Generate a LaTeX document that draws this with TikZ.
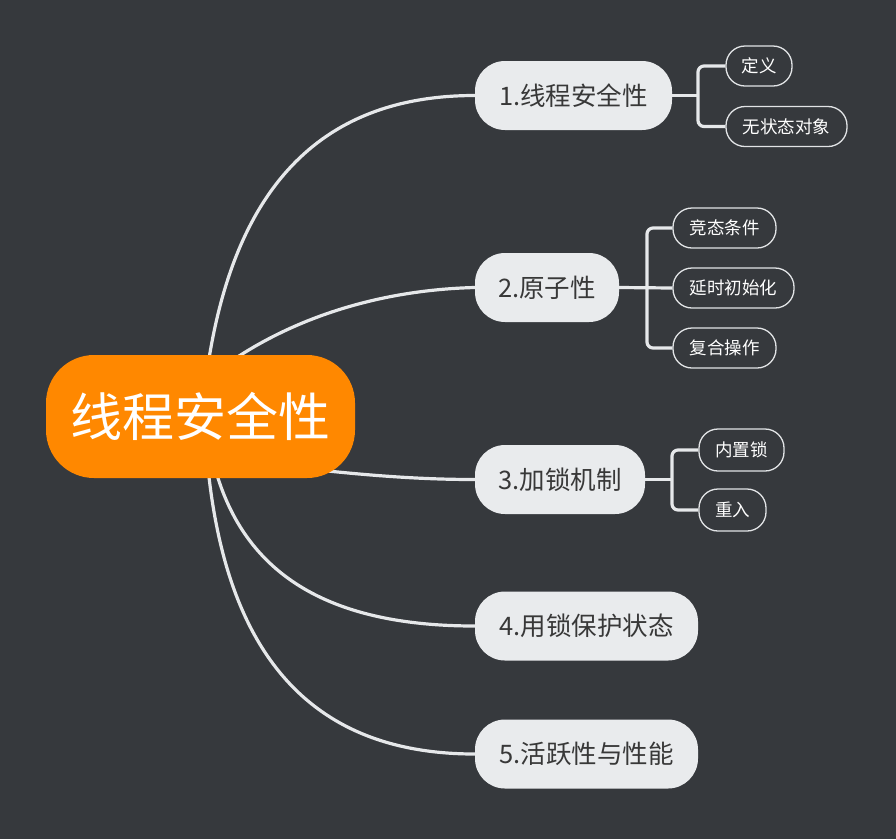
\documentclass[tikz,border=0pt]{standalone}
\usepackage{fontspec}
\setmainfont{Noto Sans CJK SC}
\definecolor{bgc}{HTML}{36393D}
\definecolor{rootc}{HTML}{FF8800}
\definecolor{lonec}{HTML}{E9EBED}
\definecolor{txtc}{HTML}{383838}
\definecolor{linec}{HTML}{E6E8EA}
\definecolor{bordc}{HTML}{E2E4E6}
\tikzset{
  rootbox/.style={fill=rootc, rounded corners=48pt, inner sep=0pt, minimum width=309pt, minimum height=123pt, text=white, font=\fontsize{52}{60}\selectfont},
  onebox/.style={fill=lonec, rounded corners=30pt, inner sep=0pt, minimum height=69pt, text=txtc, font=\fontsize{25.5}{30}\selectfont},
  twobox/.style={draw=bordc, line width=1.3pt, fill=bgc, rounded corners=19pt, inner sep=0pt, minimum height=40pt, text=white, font=\fontsize{17.5}{21}\selectfont},
  mainlink/.style={draw=linec, line width=3.2pt},
  sublink/.style={draw=linec, line width=3.2pt, rounded corners=6pt},
}
\begin{document}
\begin{tikzpicture}[x=1pt,y=-1pt]
\fill[bgc] (0,0) rectangle (896,839);
\useasboundingbox (0,0) rectangle (896,839);

% level 1 nodes
\node[onebox, minimum width=197pt] (n1) at (573.5,95.5) {1.线程安全性};
\node[onebox, minimum width=144pt] (n2) at (547,287.5) {2.原子性};
\node[onebox, minimum width=170pt] (n3) at (560,479.5) {3.加锁机制};
\node[onebox, minimum width=223pt] (n4) at (586.5,626) {4.用锁保护状态};
\node[onebox, minimum width=223pt] (n5) at (586.5,754) {5.活跃性与性能};

% level 2 nodes
\node[twobox, minimum width=66pt] (a1) at (759,66) {定义};
\node[twobox, minimum width=121pt] (a2) at (786.5,126.5) {无状态对象};
\node[twobox, minimum width=103pt] (b1) at (724.5,228) {竞态条件};
\node[twobox, minimum width=121pt] (b2) at (733.5,288) {延时初始化};
\node[twobox, minimum width=103pt] (b3) at (724.5,348) {复合操作};
\node[twobox, minimum width=85pt, minimum height=42pt] (c1) at (741.5,450) {内置锁};
\node[twobox, minimum width=67pt, minimum height=42pt] (c2) at (732.5,510) {重入};

% start points on root
\coordinate (s1) at (208,365);
\coordinate (s2) at (236,358);
\coordinate (s3) at (300,468);
\coordinate (s4) at (215,468);
\coordinate (s5) at (208,468);
% elbows
\coordinate (e1) at (698,95.5);
\coordinate (e2) at (647,287.5);
\coordinate (e3) at (672,479.5);

% main links
\draw[mainlink] (s1) .. controls (236,182.3) and (325,95.5) .. (n1.west);
\draw[mainlink] (s2) .. controls (297,318) and (378.3,290) .. (n2.west);
\draw[mainlink] (s3) .. controls (380,477) and (430,479.5) .. (n3.west);
\draw[mainlink] (s4) .. controls (245,576.7) and (331.7,626) .. (n4.west);
\draw[mainlink] (s5) .. controls (228,662) and (317,754) .. (n5.west);

% root
\node[rootbox] (root) at (200.5,416.5) {线程安全性};

% sub links
\draw[sublink] (n1.east) -- (e1);
\draw[sublink] (a1.west) -| (e1) |- (a2.west);
\draw[sublink] (n2.east) -- (b2.west);
\draw[sublink] (b1.west) -| (e2) |- (b3.west);
\draw[sublink] (n3.east) -- (e3);
\draw[sublink] (c1.west) -| (e3) |- (c2.west);
\end{tikzpicture}
\end{document}
